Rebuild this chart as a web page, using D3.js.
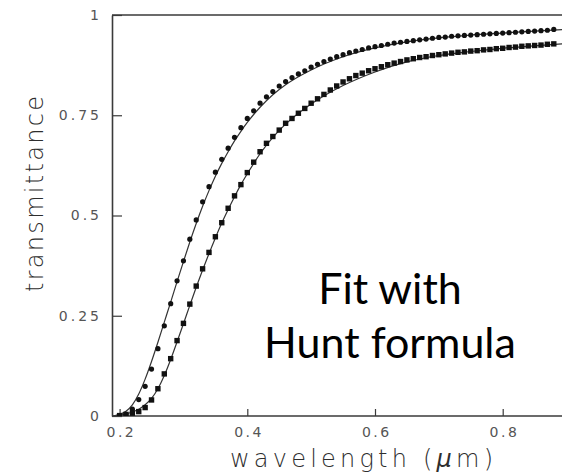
<!DOCTYPE html>
<html>
<head>
<meta charset="utf-8">
<script src="https://cdn.jsdelivr.net/npm/d3@7"></script>
<style>
  html, body { margin: 0; padding: 0; background: #fff; }
  svg { display: block; }
</style>
</head>
<body>
<svg id="chart" width="562" height="473"></svg>
<script>
// ---- data ----
const wavelengths = [0.20,0.21,0.22,0.23,0.24,0.25,0.26,0.27,0.28,0.29,
  0.30,0.31,0.32,0.33,0.34,0.35,0.36,0.37,0.38,0.39,
  0.40,0.41,0.42,0.43,0.44,0.45,0.46,0.47,0.48,0.49,
  0.50,0.51,0.52,0.53,0.54,0.55,0.56,0.57,0.58,0.59,
  0.60,0.61,0.62,0.63,0.64,0.65,0.66,0.67,0.68,0.69,
  0.70,0.71,0.72,0.73,0.74,0.75,0.76,0.77,0.78,0.79,
  0.80,0.81,0.82,0.83,0.84,0.85,0.86,0.87,0.88];
const upperMeasured = [0.001,0.004,0.017,0.041,0.074,0.117,0.168,0.225,0.280,0.337,
  0.387,0.441,0.489,0.534,0.572,0.608,0.640,0.668,0.695,0.719,
  0.742,0.761,0.780,0.796,0.809,0.823,0.834,0.844,0.853,0.861,
  0.870,0.877,0.884,0.890,0.896,0.901,0.906,0.910,0.914,0.918,
  0.921,0.924,0.927,0.930,0.932,0.934,0.936,0.938,0.940,0.942,
  0.944,0.945,0.947,0.948,0.949,0.950,0.951,0.952,0.953,0.954,
  0.955,0.956,0.957,0.958,0.959,0.960,0.961,0.962,0.964];
const lowerMeasured = [0.001,0.004,0.007,0.011,0.021,0.040,0.068,0.105,0.143,0.188,
  0.231,0.279,0.324,0.367,0.408,0.447,0.482,0.518,0.549,0.577,
  0.607,0.633,0.659,0.680,0.697,0.713,0.730,0.742,0.755,0.767,
  0.780,0.791,0.802,0.813,0.823,0.833,0.841,0.849,0.855,0.861,
  0.866,0.871,0.876,0.880,0.884,0.888,0.891,0.894,0.896,0.899,
  0.901,0.903,0.905,0.907,0.908,0.910,0.911,0.913,0.914,0.916,
  0.917,0.919,0.920,0.922,0.923,0.924,0.925,0.927,0.928];

const fitWavelengths = [0.19,0.20,0.21,0.22,0.23,0.24,0.25,0.26,0.27,0.28,0.29,
  0.30,0.31,0.32,0.33,0.34,0.35,0.36,0.37,0.38,0.39,0.40,0.42,0.44,0.46,0.48,
  0.50,0.55,0.60,0.65,0.70,0.75,0.80,0.85,0.90];
const upperFit = [0.000,0.004,0.012,0.028,0.055,0.092,0.136,0.184,0.234,0.284,0.335,
  0.385,0.434,0.480,0.523,0.562,0.598,0.630,0.659,0.686,0.710,0.732,0.770,0.801,0.826,0.846,
  0.863,0.896,0.918,0.933,0.943,0.950,0.955,0.960,0.964];
const lowerFit = [0.000,0.002,0.005,0.010,0.017,0.028,0.044,0.068,0.101,0.141,0.185,
  0.230,0.276,0.321,0.364,0.405,0.444,0.481,0.515,0.547,0.577,0.604,0.654,0.695,0.728,0.755,
  0.778,0.824,0.858,0.883,0.899,0.909,0.917,0.923,0.929];

const xTicks = [0.2, 0.4, 0.6, 0.8];
const xTickLabels = ["0.2", "0.4", "0.6", "0.8"];
const yTicks = [0, 0.25, 0.5, 0.75, 1];
const yTickLabels = ["0", "0.25", "0.5", "0.75", "1"];
const xTitle = "wavelength (";
const xTitleUnit = "\u03bc";
const xTitleEnd = "m)";
const yTitle = "transmittance";
const noteLines = ["Fit with", "Hunt formula"];

// ---- layout ----
const svg = d3.select("#chart");
const plotLeft = 112, plotTop = 15, plotBottom = 416, plotRight = 575;
const x = d3.scaleLinear().domain([0.2, 0.8]).range([119.6, 502.7]);
const y = d3.scaleLinear().domain([0, 1]).range([plotBottom, plotTop]);
const axisColor = "#3a3a3a";
const tickColor = "#555";
const titleColor = "#2e2e2e";
const tickFont = "'DejaVu Sans', sans-serif";

svg.append("defs").append("clipPath").attr("id", "plotclip")
  .append("rect").attr("x", plotLeft).attr("y", plotTop - 5)
  .attr("width", plotRight - plotLeft).attr("height", plotBottom - plotTop + 5);

// frame: top line
svg.append("line").attr("x1", plotLeft).attr("x2", plotRight).attr("y1", y(1)).attr("y2", y(1))
  .attr("stroke", axisColor).attr("stroke-width", 1.6);

// y axis
const yAxis = d3.axisLeft(y).tickValues(yTicks)
  .tickFormat((d, i) => yTickLabels[i])
  .tickSizeInner(-10).tickSizeOuter(0).tickPadding(13);
const gy = svg.append("g").attr("transform", `translate(${plotLeft},0)`).call(yAxis);
gy.select(".domain").attr("stroke", axisColor).attr("stroke-width", 1.6);
gy.selectAll(".tick line").attr("stroke", axisColor).attr("stroke-width", 1.2);
gy.selectAll(".tick text").attr("fill", tickColor).style("font-family", tickFont)
  .style("font-size", "14px").style("letter-spacing", "3px").attr("dx", "3");

// x axis
const xAxis = d3.axisBottom(x).tickValues(xTicks)
  .tickFormat((d, i) => xTickLabels[i])
  .tickSizeInner(-7).tickSizeOuter(0).tickPadding(11);
const gx = svg.append("g").attr("transform", `translate(0,${plotBottom})`).call(xAxis);
gx.select(".domain").attr("d", `M${plotLeft},0H${plotRight}`).attr("stroke", axisColor).attr("stroke-width", 1.6);
gx.selectAll(".tick line").attr("stroke", axisColor).attr("stroke-width", 1.2);
gx.selectAll(".tick text").attr("fill", tickColor).style("font-family", tickFont)
  .style("font-size", "14px").style("letter-spacing", "2.5px").attr("dx", "1.25");

// axis titles
const xt = svg.append("text").attr("x", 230).attr("y", 467)
  .attr("fill", titleColor).style("font-family", tickFont).style("font-size", "24px")
  .style("font-weight", "300")
  .attr("textLength", 263).attr("lengthAdjust", "spacing");
xt.append("tspan").text(xTitle);
xt.append("tspan").style("font-style", "italic").text(xTitleUnit);
xt.append("tspan").text(xTitleEnd);

svg.append("text").attr("transform", "translate(43,292) rotate(-90)")
  .attr("fill", titleColor).style("font-family", tickFont).style("font-size", "24px")
  .style("font-weight", "300")
  .attr("textLength", 196).attr("lengthAdjust", "spacing")
  .text(yTitle);

// fit lines
const plot = svg.append("g").attr("clip-path", "url(#plotclip)");
const line = d3.line().x(d => x(d[0])).y(d => y(d[1])).curve(d3.curveMonotoneX);
[upperFit, lowerFit].forEach(series => {
  plot.append("path")
    .datum(fitWavelengths.map((w, i) => [w, series[i]]))
    .attr("d", line).attr("fill", "none").attr("stroke", "#333").attr("stroke-width", 1.2);
});

// measured points
plot.selectAll("circle.upper").data(wavelengths.map((w, i) => [w, upperMeasured[i]]))
  .join("circle").attr("class", "upper")
  .attr("cx", d => x(d[0])).attr("cy", d => y(d[1])).attr("r", 2.6).attr("fill", "#111");
const sq = 5.4;
plot.selectAll("rect.lower").data(wavelengths.map((w, i) => [w, lowerMeasured[i]]))
  .join("rect").attr("class", "lower")
  .attr("x", d => x(d[0]) - sq / 2).attr("y", d => y(d[1]) - sq / 2)
  .attr("width", sq).attr("height", sq).attr("fill", "#111");

// annotation
const note = svg.append("g").style("font-family", "Lato, 'Open Sans', sans-serif")
  .style("font-size", "43px").attr("fill", "#000");
note.append("text").attr("x", 390).attr("y", 304).attr("text-anchor", "middle").text(noteLines[0]);
note.append("text").attr("x", 390).attr("y", 358).attr("text-anchor", "middle").text(noteLines[1]);
</script>
</body>
</html>
